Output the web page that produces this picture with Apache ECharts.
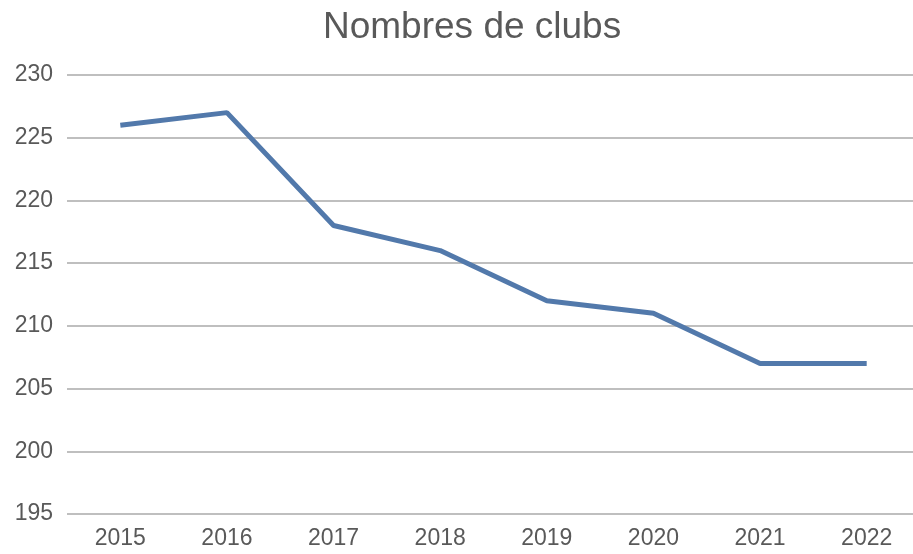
<!DOCTYPE html>
<html>
<head>
<meta charset="utf-8">
<script src="https://cdn.jsdelivr.net/npm/echarts@6/dist/echarts.min.js"></script>
<style>
  html, body { margin: 0; padding: 0; background: #fff; }
  #chart { width: 913px; height: 554px; }
</style>
</head>
<body>
<div id="chart"></div>
<script>
// years and club counts
const years = ['2015', '2016', '2017', '2018', '2019', '2020', '2021', '2022'];
const clubs = [226, 227, 218, 216, 212, 211, 207, 207];

const chart = echarts.init(document.getElementById('chart'));
const font = "'Liberation Sans', Arial, sans-serif";

chart.setOption({
  animation: false,
  title: {
    text: 'Nombres de clubs',
    left: 318,
    top: 4,
    textStyle: { fontFamily: font, fontSize: 37, fontWeight: 'normal', color: '#595959' }
  },
  // plot area runs a little past the right edge, like the original
  grid: { left: 67, top: 75, width: 853, bottom: 40, containLabel: false, outerBoundsMode: 'none' },
  xAxis: {
    type: 'category',
    data: years,
    boundaryGap: true,
    axisLine: { show: false },
    axisTick: { show: false },
    axisLabel: { fontFamily: font, fontSize: 23, color: '#595959', margin: 13 }
  },
  yAxis: {
    type: 'value',
    min: 195,
    max: 230,
    interval: 5,
    axisLine: { show: false },
    axisTick: { show: false },
    axisLabel: { fontFamily: font, fontSize: 23, color: '#595959', margin: 14 },
    splitLine: { lineStyle: { color: '#bfbfbf', width: 2 } }
  },
  series: [{
    type: 'line',
    data: clubs,
    symbol: 'none',
    lineStyle: { color: '#5279ab', width: 5 }
  }]
});
</script>
</body>
</html>
